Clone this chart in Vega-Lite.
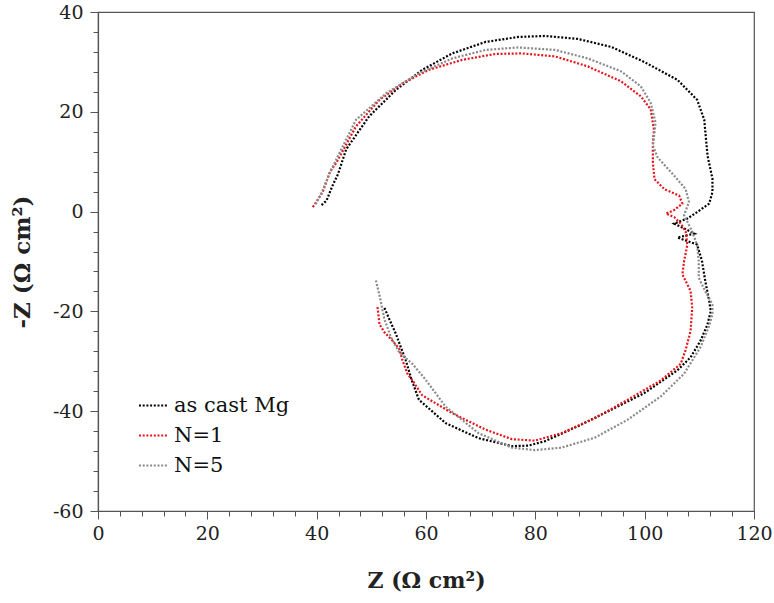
{
  "$schema": "https://vega.github.io/schema/vega-lite/v6.json",
  "width": 656,
  "height": 499,
  "autosize": "none",
  "padding": {"left": 98, "top": 12, "right": 20, "bottom": 92},
  "background": "white",
  "config": {
    "font": "DejaVu Serif",
    "view": {"stroke": "#555555", "strokeWidth": 1.2},
    "axis": {"grid": false, "labelFont": "DejaVu Serif", "titleFont": "DejaVu Serif", "labelFlush": false, "labelOverlap": false},
    "legend": {"labelFont": "DejaVu Serif"}
  },
  "data": {
    "values": [
      {"s": "as cast Mg", "i": 1, "x": 40.9, "y": 1.3},
      {"s": "as cast Mg", "i": 2, "x": 41.8, "y": 2.2},
      {"s": "as cast Mg", "i": 3, "x": 42.9, "y": 5.2},
      {"s": "as cast Mg", "i": 4, "x": 43.9, "y": 7.5},
      {"s": "as cast Mg", "i": 5, "x": 45.4, "y": 12.5},
      {"s": "as cast Mg", "i": 6, "x": 49.6, "y": 19.1},
      {"s": "as cast Mg", "i": 7, "x": 54.5, "y": 24.4},
      {"s": "as cast Mg", "i": 8, "x": 59.3, "y": 28.4},
      {"s": "as cast Mg", "i": 9, "x": 64.8, "y": 31.7},
      {"s": "as cast Mg", "i": 10, "x": 70.9, "y": 34.0},
      {"s": "as cast Mg", "i": 11, "x": 76.9, "y": 35.0},
      {"s": "as cast Mg", "i": 12, "x": 81.8, "y": 35.2},
      {"s": "as cast Mg", "i": 13, "x": 87.8, "y": 34.6},
      {"s": "as cast Mg", "i": 14, "x": 93.9, "y": 33.0},
      {"s": "as cast Mg", "i": 15, "x": 99.9, "y": 30.0},
      {"s": "as cast Mg", "i": 16, "x": 106.0, "y": 26.4},
      {"s": "as cast Mg", "i": 17, "x": 109.6, "y": 22.4},
      {"s": "as cast Mg", "i": 18, "x": 110.9, "y": 18.4},
      {"s": "as cast Mg", "i": 19, "x": 111.5, "y": 11.2},
      {"s": "as cast Mg", "i": 20, "x": 112.4, "y": 6.6},
      {"s": "as cast Mg", "i": 21, "x": 112.4, "y": 3.9},
      {"s": "as cast Mg", "i": 22, "x": 111.8, "y": 1.6},
      {"s": "as cast Mg", "i": 23, "x": 109.6, "y": -0.1},
      {"s": "as cast Mg", "i": 24, "x": 107.8, "y": -1.4},
      {"s": "as cast Mg", "i": 25, "x": 105.4, "y": -2.4},
      {"s": "as cast Mg", "i": 26, "x": 109.1, "y": -4.4},
      {"s": "as cast Mg", "i": 27, "x": 106.0, "y": -5.2},
      {"s": "as cast Mg", "i": 28, "x": 109.6, "y": -6.6},
      {"s": "as cast Mg", "i": 29, "x": 110.5, "y": -10.0},
      {"s": "as cast Mg", "i": 30, "x": 111.1, "y": -14.0},
      {"s": "as cast Mg", "i": 31, "x": 111.8, "y": -17.9},
      {"s": "as cast Mg", "i": 32, "x": 112.1, "y": -19.9},
      {"s": "as cast Mg", "i": 33, "x": 111.5, "y": -22.6},
      {"s": "as cast Mg", "i": 34, "x": 110.2, "y": -25.9},
      {"s": "as cast Mg", "i": 35, "x": 108.4, "y": -29.2},
      {"s": "as cast Mg", "i": 36, "x": 106.0, "y": -31.8},
      {"s": "as cast Mg", "i": 37, "x": 99.9, "y": -36.4},
      {"s": "as cast Mg", "i": 38, "x": 93.9, "y": -39.7},
      {"s": "as cast Mg", "i": 39, "x": 87.8, "y": -43.0},
      {"s": "as cast Mg", "i": 40, "x": 81.8, "y": -46.0},
      {"s": "as cast Mg", "i": 41, "x": 78.7, "y": -46.9},
      {"s": "as cast Mg", "i": 42, "x": 75.7, "y": -47.0},
      {"s": "as cast Mg", "i": 43, "x": 69.6, "y": -45.4},
      {"s": "as cast Mg", "i": 44, "x": 63.6, "y": -42.4},
      {"s": "as cast Mg", "i": 45, "x": 58.7, "y": -37.7},
      {"s": "as cast Mg", "i": 46, "x": 57.3, "y": -33.5},
      {"s": "as cast Mg", "i": 47, "x": 56.3, "y": -29.8},
      {"s": "as cast Mg", "i": 48, "x": 55.4, "y": -27.2},
      {"s": "as cast Mg", "i": 49, "x": 54.5, "y": -24.5},
      {"s": "as cast Mg", "i": 50, "x": 53.3, "y": -21.6},
      {"s": "as cast Mg", "i": 51, "x": 52.4, "y": -19.3},

      {"s": "N=1", "i": 1, "x": 39.3, "y": 0.9},
      {"s": "N=1", "i": 2, "x": 41.1, "y": 3.9},
      {"s": "N=1", "i": 3, "x": 42.4, "y": 7.9},
      {"s": "N=1", "i": 4, "x": 43.6, "y": 9.8},
      {"s": "N=1", "i": 5, "x": 47.2, "y": 17.1},
      {"s": "N=1", "i": 6, "x": 51.5, "y": 22.4},
      {"s": "N=1", "i": 7, "x": 55.7, "y": 25.7},
      {"s": "N=1", "i": 8, "x": 60.5, "y": 28.4},
      {"s": "N=1", "i": 9, "x": 66.6, "y": 30.4},
      {"s": "N=1", "i": 10, "x": 72.7, "y": 31.6},
      {"s": "N=1", "i": 11, "x": 77.5, "y": 31.7},
      {"s": "N=1", "i": 12, "x": 83.6, "y": 31.1},
      {"s": "N=1", "i": 13, "x": 89.6, "y": 29.1},
      {"s": "N=1", "i": 14, "x": 95.7, "y": 26.1},
      {"s": "N=1", "i": 15, "x": 99.3, "y": 23.1},
      {"s": "N=1", "i": 16, "x": 101.1, "y": 20.5},
      {"s": "N=1", "i": 17, "x": 101.7, "y": 16.4},
      {"s": "N=1", "i": 18, "x": 101.5, "y": 13.8},
      {"s": "N=1", "i": 19, "x": 101.5, "y": 9.8},
      {"s": "N=1", "i": 20, "x": 101.8, "y": 6.5},
      {"s": "N=1", "i": 21, "x": 103.6, "y": 4.5},
      {"s": "N=1", "i": 22, "x": 106.3, "y": 3.2},
      {"s": "N=1", "i": 23, "x": 106.9, "y": 1.6},
      {"s": "N=1", "i": 24, "x": 105.4, "y": 0.3},
      {"s": "N=1", "i": 25, "x": 103.9, "y": -0.4},
      {"s": "N=1", "i": 26, "x": 105.4, "y": -1.1},
      {"s": "N=1", "i": 27, "x": 106.6, "y": -2.4},
      {"s": "N=1", "i": 28, "x": 107.5, "y": -4.0},
      {"s": "N=1", "i": 29, "x": 107.8, "y": -6.7},
      {"s": "N=1", "i": 30, "x": 107.2, "y": -10.0},
      {"s": "N=1", "i": 31, "x": 106.9, "y": -12.6},
      {"s": "N=1", "i": 32, "x": 108.4, "y": -15.9},
      {"s": "N=1", "i": 33, "x": 108.7, "y": -19.3},
      {"s": "N=1", "i": 34, "x": 108.4, "y": -23.9},
      {"s": "N=1", "i": 35, "x": 107.5, "y": -27.7},
      {"s": "N=1", "i": 36, "x": 106.6, "y": -30.5},
      {"s": "N=1", "i": 37, "x": 103.0, "y": -33.8},
      {"s": "N=1", "i": 38, "x": 96.9, "y": -37.7},
      {"s": "N=1", "i": 39, "x": 90.9, "y": -41.4},
      {"s": "N=1", "i": 40, "x": 84.8, "y": -44.4},
      {"s": "N=1", "i": 41, "x": 79.9, "y": -45.9},
      {"s": "N=1", "i": 42, "x": 75.7, "y": -45.6},
      {"s": "N=1", "i": 43, "x": 70.9, "y": -43.7},
      {"s": "N=1", "i": 44, "x": 64.8, "y": -40.4},
      {"s": "N=1", "i": 45, "x": 59.3, "y": -36.8},
      {"s": "N=1", "i": 46, "x": 57.5, "y": -33.8},
      {"s": "N=1", "i": 47, "x": 56.6, "y": -32.5},
      {"s": "N=1", "i": 48, "x": 55.7, "y": -29.8},
      {"s": "N=1", "i": 49, "x": 55.1, "y": -27.5},
      {"s": "N=1", "i": 50, "x": 53.9, "y": -25.9},
      {"s": "N=1", "i": 51, "x": 52.4, "y": -24.2},
      {"s": "N=1", "i": 52, "x": 51.5, "y": -22.6},
      {"s": "N=1", "i": 53, "x": 51.1, "y": -18.9},

      {"s": "N=5", "i": 1, "x": 39.8, "y": 1.5},
      {"s": "N=5", "i": 2, "x": 40.8, "y": 3.5},
      {"s": "N=5", "i": 3, "x": 42.5, "y": 8.0},
      {"s": "N=5", "i": 4, "x": 44.5, "y": 12.5},
      {"s": "N=5", "i": 5, "x": 47.2, "y": 18.4},
      {"s": "N=5", "i": 6, "x": 52.7, "y": 23.7},
      {"s": "N=5", "i": 7, "x": 58.7, "y": 27.7},
      {"s": "N=5", "i": 8, "x": 64.8, "y": 30.7},
      {"s": "N=5", "i": 9, "x": 70.9, "y": 32.4},
      {"s": "N=5", "i": 10, "x": 76.9, "y": 32.9},
      {"s": "N=5", "i": 11, "x": 83.6, "y": 32.4},
      {"s": "N=5", "i": 12, "x": 89.6, "y": 30.7},
      {"s": "N=5", "i": 13, "x": 95.7, "y": 28.1},
      {"s": "N=5", "i": 14, "x": 99.3, "y": 25.1},
      {"s": "N=5", "i": 15, "x": 101.1, "y": 21.8},
      {"s": "N=5", "i": 16, "x": 102.0, "y": 17.8},
      {"s": "N=5", "i": 17, "x": 101.5, "y": 13.2},
      {"s": "N=5", "i": 18, "x": 102.4, "y": 10.8},
      {"s": "N=5", "i": 19, "x": 105.4, "y": 7.2},
      {"s": "N=5", "i": 20, "x": 107.5, "y": 4.5},
      {"s": "N=5", "i": 21, "x": 108.1, "y": 1.9},
      {"s": "N=5", "i": 22, "x": 107.2, "y": -0.7},
      {"s": "N=5", "i": 23, "x": 108.7, "y": -4.0},
      {"s": "N=5", "i": 24, "x": 109.6, "y": -6.7},
      {"s": "N=5", "i": 25, "x": 109.9, "y": -10.0},
      {"s": "N=5", "i": 26, "x": 109.9, "y": -13.3},
      {"s": "N=5", "i": 27, "x": 111.1, "y": -16.0},
      {"s": "N=5", "i": 28, "x": 112.4, "y": -18.6},
      {"s": "N=5", "i": 29, "x": 112.4, "y": -20.6},
      {"s": "N=5", "i": 30, "x": 111.7, "y": -23.2},
      {"s": "N=5", "i": 31, "x": 110.2, "y": -27.2},
      {"s": "N=5", "i": 32, "x": 107.2, "y": -32.5},
      {"s": "N=5", "i": 33, "x": 103.0, "y": -37.0},
      {"s": "N=5", "i": 34, "x": 96.9, "y": -41.7},
      {"s": "N=5", "i": 35, "x": 90.9, "y": -45.3},
      {"s": "N=5", "i": 36, "x": 84.8, "y": -47.3},
      {"s": "N=5", "i": 37, "x": 79.9, "y": -47.8},
      {"s": "N=5", "i": 38, "x": 75.7, "y": -47.3},
      {"s": "N=5", "i": 39, "x": 69.6, "y": -44.4},
      {"s": "N=5", "i": 40, "x": 63.6, "y": -39.1},
      {"s": "N=5", "i": 41, "x": 59.8, "y": -33.5},
      {"s": "N=5", "i": 42, "x": 57.5, "y": -30.5},
      {"s": "N=5", "i": 43, "x": 55.1, "y": -28.2},
      {"s": "N=5", "i": 44, "x": 53.6, "y": -25.2},
      {"s": "N=5", "i": 45, "x": 52.4, "y": -21.6},
      {"s": "N=5", "i": 46, "x": 51.6, "y": -17.3},
      {"s": "N=5", "i": 47, "x": 50.8, "y": -13.6}
    ]
  },
  "resolve": {"axis": {"x": "independent", "y": "independent"}},
  "layer": [
    {
      "mark": {"type": "point", "opacity": 0},
      "encoding": {
        "x": {
          "field": "x", "type": "quantitative",
          "scale": {"domain": [0, 120], "nice": false, "zero": false},
          "axis": {"orient": "bottom", "values": [4,8,12,16,24,28,32,36,44,48,52,56,64,68,72,76,84,88,92,96,104,108,112,116], "labels": false, "domain": false, "tickSize": 5, "tickColor": "#555555", "tickWidth": 1, "title": null, "grid": false}
        },
        "y": {
          "field": "y", "type": "quantitative",
          "scale": {"domain": [-60, 40], "nice": false, "zero": false},
          "axis": {"orient": "left", "values": [36,32,28,24,16,12,8,4,-4,-8,-12,-16,-24,-28,-32,-36,-44,-48,-52,-56], "labels": false, "domain": false, "tickSize": 5, "tickColor": "#555555", "tickWidth": 1, "title": null, "grid": false}
        }
      }
    },
    {
      "mark": {"type": "line", "strokeWidth": 2.2, "strokeDash": [2, 1.7], "strokeCap": "butt", "interpolate": "linear"},
      "encoding": {
        "x": {
          "field": "x", "type": "quantitative",
          "scale": {"domain": [0, 120], "nice": false, "zero": false},
          "axis": {
            "orient": "bottom",
            "values": [0, 20, 40, 60, 80, 100, 120],
            "tickSize": 8, "tickColor": "#555555", "tickWidth": 1,
            "domainColor": "#555555", "domainWidth": 1.2,
            "labelFont": "DejaVu Serif", "labelFontSize": 19, "labelColor": "#222222", "labelPadding": 5, "labelFlush": false,
            "labelExpr": "'' + datum.value",
            "title": "Z (Ω cm²)",
            "titleFont": "DejaVu Serif", "titleFontSize": 22, "titleFontWeight": "bold", "titleColor": "#222222", "titlePadding": 27
          }
        },
        "y": {
          "field": "y", "type": "quantitative",
          "scale": {"domain": [-60, 40], "nice": false, "zero": false},
          "axis": {
            "orient": "left",
            "values": [-60, -40, -20, 0, 20, 40],
            "tickSize": 8, "tickColor": "#555555", "tickWidth": 1,
            "domainColor": "#555555", "domainWidth": 1.2,
            "labelFont": "DejaVu Serif", "labelFontSize": 19, "labelColor": "#222222", "labelPadding": 7, "labelFlush": false,
            "labelExpr": "'' + datum.value",
            "title": "-Z (Ω cm²)",
            "titleFont": "DejaVu Serif", "titleFontSize": 23, "titleFontWeight": "bold", "titleColor": "#222222", "titlePadding": 18
          }
        },
        "color": {
          "field": "s", "type": "nominal",
          "scale": {"domain": ["as cast Mg", "N=1", "N=5"], "range": ["#000000", "#e8141b", "#8a8a8a"]},
          "legend": {
            "orient": "none", "legendX": 40, "legendY": 378,
            "title": null,
            "symbolType": "stroke", "symbolSize": 841, "symbolStrokeWidth": 2, "symbolDash": [2, 1.7],
            "labelFont": "DejaVu Serif", "labelFontSize": 21, "labelColor": "#111111", "labelOffset": 5,
            "rowPadding": 4
          }
        },
        "detail": {"field": "s"},
        "order": {"field": "i", "type": "quantitative"}
      }
    }
  ]
}
